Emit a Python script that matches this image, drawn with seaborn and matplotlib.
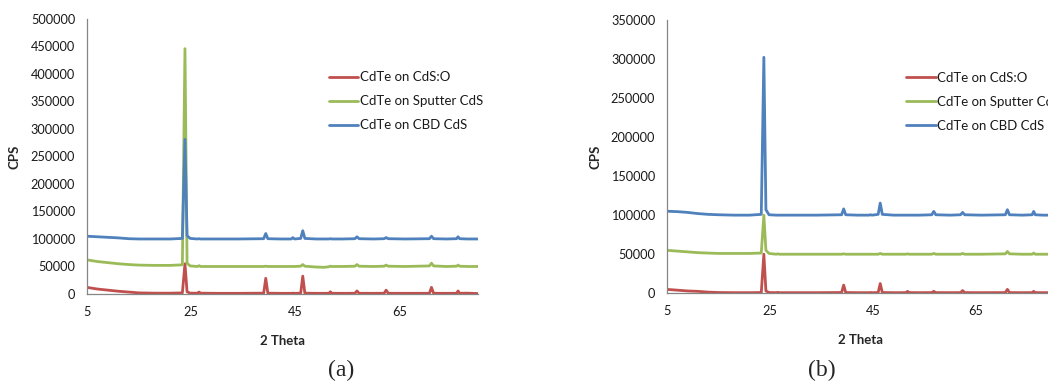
import numpy as np
import pandas as pd
import matplotlib
matplotlib.use("Agg")
import matplotlib.pyplot as plt
import seaborn as sns

# 2θ sampling points shared by every curve (background + peak flanks)
two_theta = [5, 7, 9, 11, 13, 15, 18, 21, 23.3, 23.8, 24.2, 24.8, 26.2, 26.5, 26.8,
             30, 34, 38.9, 39.3, 39.7, 42, 44.2, 44.5, 44.8, 46.0, 46.4, 46.8, 49, 50.5,
             51.4, 51.7, 52.0, 54, 56.4, 56.8, 57.2, 60, 62.0, 62.4, 62.8, 66, 70.7, 71.1,
             71.5, 74, 75.9, 76.2, 76.5, 78, 80]

series_names = ["CdTe on CdS:O", "CdTe on Sputter CdS", "CdTe on CBD CdS"]
series_colors = ["#C0504D", "#9BBB59", "#4F81BD"]

# panel (a)
a_cdso = [12000, 9000, 7000, 5000, 3500, 2000, 1500, 1500, 2000, 55000, 4000, 1500, 1500, 3500, 1500,
          1200, 1200, 1500, 28500, 1500, 1200, 1200, 1500, 1200, 1500, 32500, 1500, 1200, 1200,
          1300, 4000, 1300, 1200, 1300, 5500, 1300, 1200, 1300, 7000, 1300, 1200, 1300, 12000,
          1300, 1200, 1300, 5500, 1300, 1500, 800]
a_sputter = [62000, 59000, 57000, 55000, 53500, 52500, 52000, 52000, 53000, 446000, 56000, 51000, 50000, 51500, 50000,
             50000, 50000, 50000, 50500, 50000, 50000, 50000, 50000, 50000, 50500, 53500, 50500, 49000, 48500,
             49500, 50500, 50000, 50000, 50500, 53500, 50500, 50000, 50500, 52500, 50500, 50000, 51000, 56000,
             51000, 50000, 50500, 52500, 50500, 50000, 50000]
a_cbd = [105000, 104000, 103000, 102000, 100500, 100000, 100000, 100000, 101000, 281000, 106000, 101000, 100000, 100500, 100000,
         100000, 100000, 100500, 110000, 100500, 100000, 100000, 102500, 100000, 101000, 115000, 101000, 100000, 100000,
         100000, 100500, 100000, 100000, 100500, 104000, 100500, 100000, 100500, 102500, 100500, 100000, 100500, 105000,
         100500, 100000, 100500, 104000, 100500, 100000, 100000]

# panel (b)
b_cdso = [5000, 4000, 3000, 2500, 1500, 1000, 800, 800, 1000, 50000, 3000, 1000, 800, 1200, 800,
          800, 800, 1000, 10500, 1000, 800, 800, 1000, 800, 1000, 12500, 1000, 800, 800,
          900, 2500, 900, 800, 900, 2500, 900, 800, 900, 3500, 900, 800, 900, 5000,
          900, 800, 900, 2500, 900, 800, 800]
b_sputter = [55000, 54000, 53000, 52000, 51500, 51000, 51000, 51000, 51500, 100000, 55000, 51000, 50000, 50500, 50000,
             50000, 50000, 50000, 50500, 50000, 50000, 50000, 50000, 50000, 50000, 51000, 50000, 50000, 50000,
             50000, 50500, 50000, 50000, 50000, 51000, 50000, 50000, 50000, 51000, 50000, 50000, 50500, 53500,
             50500, 50000, 50000, 51500, 50000, 50000, 50000]
b_cbd = [105000, 104500, 103500, 102000, 101000, 100500, 100000, 100000, 101000, 302000, 107000, 100500, 100000, 100000, 100000,
         100000, 100000, 100500, 108000, 100500, 100000, 100000, 100500, 100000, 101000, 115500, 101000, 100000, 100000,
         100000, 100000, 100000, 100000, 100500, 104800, 100500, 100000, 100500, 103500, 100500, 100000, 100500, 107000,
         100500, 100000, 100500, 104800, 100500, 100000, 100000]

a_ticks = [0, 50000, 100000, 150000, 200000, 250000, 300000, 350000, 400000, 450000, 500000]
b_ticks = [0, 50000, 100000, 150000, 200000, 250000, 300000, 350000]
x_ticks = [5, 25, 45, 65]


def long_df(curves):
    parts = []
    for name, vals in zip(series_names, curves):
        parts.append(pd.DataFrame({"2 Theta": two_theta, "CPS": vals, "Sample": name}))
    return pd.concat(parts, ignore_index=True)


sns.set_style("white")
plt.rcParams['font.family'] = ['Lato', 'DejaVu Sans']

fig = plt.figure(figsize=(10.48, 3.82), dpi=100)
ax_a = fig.add_axes([0.083, 0.2304, 0.373, 0.720])
# panel (b) runs past the right edge, as in the original page crop
ax_b = fig.add_axes([0.6365, 0.2322, 0.3685, 0.716])

panels = [(ax_a, [a_cdso, a_sputter, a_cbd], a_ticks, "(a)", 0.3254),
          (ax_b, [b_cdso, b_sputter, b_cbd], b_ticks, "(b)", 0.7843)]

for ax, curves, yticks, tag, tag_x in panels:
    df = long_df(curves)
    sns.lineplot(data=df, x="2 Theta", y="CPS", hue="Sample", hue_order=series_names,
                 palette=series_colors, estimator=None, sort=False, lw=2.0, ax=ax)
    ax.set_xlim(5, 80)
    ax.set_ylim(0, yticks[-1])
    ax.set_xticks(x_ticks)
    ax.set_yticks(yticks)
    ax.tick_params(axis="both", direction="out", length=3.5, width=0.8, color="#868686",
                   labelsize=9.2, labelcolor="#1a1a1a", pad=5)
    for side in ["top", "right"]:
        ax.spines[side].set_visible(False)
    for side in ["left", "bottom"]:
        ax.spines[side].set_color("#868686")
        ax.spines[side].set_linewidth(0.9)
    ax.set_xlabel("2 Theta", fontsize=9.5, fontweight="bold")
    ax.set_ylabel("CPS", fontsize=9.5, fontweight="bold")
    ax.xaxis.set_label_coords(0.5, -0.15)
    ax.yaxis.set_label_coords(-0.17, 0.5)
    leg = ax.legend(loc="upper left", bbox_to_anchor=(0.62, 0.81), frameon=False,
                    fontsize=9.5, handlelength=2.2, handletextpad=0.1, labelspacing=0.92,
                    borderpad=0, borderaxespad=0)
    for t in leg.get_texts():
        t.set_color("#1a1a1a")
    for h in leg.get_lines():
        h.set_linewidth(2.0)
    fig.text(tag_x, 0.03, tag, family=["Liberation Serif", "DejaVu Serif"], fontsize=17,
             ha="center", va="center")

fig.savefig("out.png", dpi=100)
